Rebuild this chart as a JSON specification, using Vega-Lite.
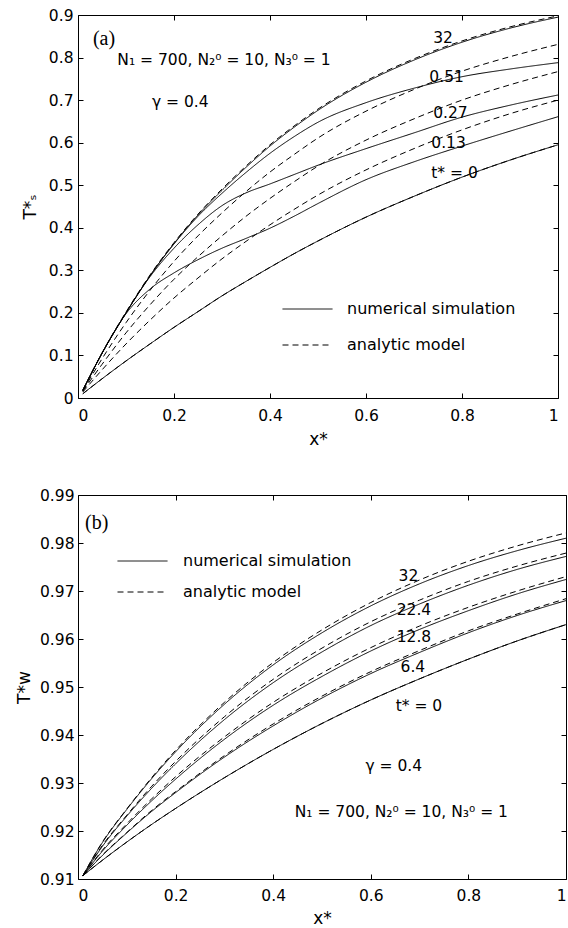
{
"$schema": "https://vega.github.io/schema/vega-lite/v6.json",
"background": "white",
"padding": {"left": 15, "top": 8, "right": 2, "bottom": 4},
"config": {
  "font": "DejaVu Sans",
  "view": {"stroke": null},
  "axis": {"domainColor": "black", "domainWidth": 1, "tickColor": "black", "tickWidth": 1, "tickSize": -5, "labelColor": "black", "labelFont": "DejaVu Sans", "labelFontSize": 15.5, "titleColor": "black", "titleFont": "DejaVu Sans", "titleFontSize": 17, "titleFontWeight": "normal", "grid": false},
  "legend": {"padding": 0, "labelFont": "DejaVu Sans", "labelFontSize": 16, "labelColor": "black", "labelLimit": 400, "symbolType": "stroke", "symbolSize": 2500, "symbolStrokeWidth": 1, "symbolStrokeColor": "black", "clipHeight": 16}
},
"datasets": {
  "a_num": [
    {"x":0.01,"T":0.018,"t":"32"},{"x":0.05,"T":0.105,"t":"32"},{"x":0.1,"T":0.2,"t":"32"},{"x":0.15,"T":0.287,"t":"32"},{"x":0.2,"T":0.363,"t":"32"},{"x":0.25,"T":0.43,"t":"32"},{"x":0.3,"T":0.488,"t":"32"},{"x":0.35,"T":0.542,"t":"32"},{"x":0.4,"T":0.592,"t":"32"},{"x":0.45,"T":0.636,"t":"32"},{"x":0.5,"T":0.676,"t":"32"},{"x":0.6,"T":0.742,"t":"32"},{"x":0.7,"T":0.794,"t":"32"},{"x":0.8,"T":0.836,"t":"32"},{"x":0.9,"T":0.869,"t":"32"},{"x":1,"T":0.895,"t":"32"},
    {"x":0.01,"T":0.018,"t":"0.51"},{"x":0.05,"T":0.105,"t":"0.51"},{"x":0.1,"T":0.2,"t":"0.51"},{"x":0.15,"T":0.287,"t":"0.51"},{"x":0.2,"T":0.362,"t":"0.51"},{"x":0.25,"T":0.427,"t":"0.51"},{"x":0.3,"T":0.481,"t":"0.51"},{"x":0.35,"T":0.53,"t":"0.51"},{"x":0.4,"T":0.575,"t":"0.51"},{"x":0.45,"T":0.614,"t":"0.51"},{"x":0.5,"T":0.648,"t":"0.51"},{"x":0.6,"T":0.694,"t":"0.51"},{"x":0.7,"T":0.728,"t":"0.51"},{"x":0.8,"T":0.755,"t":"0.51"},{"x":0.9,"T":0.773,"t":"0.51"},{"x":1,"T":0.788,"t":"0.51"},
    {"x":0.01,"T":0.018,"t":"0.27"},{"x":0.05,"T":0.105,"t":"0.27"},{"x":0.1,"T":0.2,"t":"0.27"},{"x":0.15,"T":0.285,"t":"0.27"},{"x":0.2,"T":0.352,"t":"0.27"},{"x":0.25,"T":0.407,"t":"0.27"},{"x":0.3,"T":0.452,"t":"0.27"},{"x":0.35,"T":0.482,"t":"0.27"},{"x":0.4,"T":0.503,"t":"0.27"},{"x":0.45,"T":0.525,"t":"0.27"},{"x":0.5,"T":0.547,"t":"0.27"},{"x":0.6,"T":0.586,"t":"0.27"},{"x":0.7,"T":0.623,"t":"0.27"},{"x":0.8,"T":0.66,"t":"0.27"},{"x":0.9,"T":0.688,"t":"0.27"},{"x":1,"T":0.712,"t":"0.27"},
    {"x":0.01,"T":0.018,"t":"0.13"},{"x":0.05,"T":0.105,"t":"0.13"},{"x":0.1,"T":0.198,"t":"0.13"},{"x":0.15,"T":0.256,"t":"0.13"},{"x":0.2,"T":0.294,"t":"0.13"},{"x":0.25,"T":0.325,"t":"0.13"},{"x":0.3,"T":0.352,"t":"0.13"},{"x":0.35,"T":0.375,"t":"0.13"},{"x":0.4,"T":0.399,"t":"0.13"},{"x":0.45,"T":0.427,"t":"0.13"},{"x":0.5,"T":0.457,"t":"0.13"},{"x":0.6,"T":0.513,"t":"0.13"},{"x":0.7,"T":0.555,"t":"0.13"},{"x":0.8,"T":0.592,"t":"0.13"},{"x":0.9,"T":0.627,"t":"0.13"},{"x":1,"T":0.661,"t":"0.13"},
    {"x":0.01,"T":0.01,"t":"0"},{"x":0.05,"T":0.045,"t":"0"},{"x":0.1,"T":0.087,"t":"0"},{"x":0.15,"T":0.127,"t":"0"},{"x":0.2,"T":0.166,"t":"0"},{"x":0.25,"T":0.203,"t":"0"},{"x":0.3,"T":0.24,"t":"0"},{"x":0.35,"T":0.274,"t":"0"},{"x":0.4,"T":0.307,"t":"0"},{"x":0.45,"T":0.339,"t":"0"},{"x":0.5,"T":0.369,"t":"0"},{"x":0.6,"T":0.425,"t":"0"},{"x":0.7,"T":0.474,"t":"0"},{"x":0.8,"T":0.519,"t":"0"},{"x":0.9,"T":0.559,"t":"0"},{"x":1,"T":0.595,"t":"0"}
  ],
  "a_ana": [
    {"x":0.01,"T":0.018,"t":"32"},{"x":0.05,"T":0.106,"t":"32"},{"x":0.1,"T":0.202,"t":"32"},{"x":0.15,"T":0.289,"t":"32"},{"x":0.2,"T":0.365,"t":"32"},{"x":0.25,"T":0.432,"t":"32"},{"x":0.3,"T":0.491,"t":"32"},{"x":0.35,"T":0.545,"t":"32"},{"x":0.4,"T":0.595,"t":"32"},{"x":0.45,"T":0.639,"t":"32"},{"x":0.5,"T":0.679,"t":"32"},{"x":0.6,"T":0.745,"t":"32"},{"x":0.7,"T":0.797,"t":"32"},{"x":0.8,"T":0.839,"t":"32"},{"x":0.9,"T":0.872,"t":"32"},{"x":1,"T":0.898,"t":"32"},
    {"x":0.01,"T":0.017,"t":"0.51"},{"x":0.05,"T":0.092,"t":"0.51"},{"x":0.1,"T":0.177,"t":"0.51"},{"x":0.15,"T":0.253,"t":"0.51"},{"x":0.2,"T":0.321,"t":"0.51"},{"x":0.25,"T":0.381,"t":"0.51"},{"x":0.3,"T":0.435,"t":"0.51"},{"x":0.35,"T":0.485,"t":"0.51"},{"x":0.4,"T":0.531,"t":"0.51"},{"x":0.45,"T":0.572,"t":"0.51"},{"x":0.5,"T":0.611,"t":"0.51"},{"x":0.6,"T":0.674,"t":"0.51"},{"x":0.7,"T":0.725,"t":"0.51"},{"x":0.8,"T":0.768,"t":"0.51"},{"x":0.9,"T":0.802,"t":"0.51"},{"x":1,"T":0.831,"t":"0.51"},
    {"x":0.01,"T":0.016,"t":"0.27"},{"x":0.05,"T":0.079,"t":"0.27"},{"x":0.1,"T":0.153,"t":"0.27"},{"x":0.15,"T":0.219,"t":"0.27"},{"x":0.2,"T":0.279,"t":"0.27"},{"x":0.25,"T":0.332,"t":"0.27"},{"x":0.3,"T":0.381,"t":"0.27"},{"x":0.35,"T":0.427,"t":"0.27"},{"x":0.4,"T":0.469,"t":"0.27"},{"x":0.45,"T":0.508,"t":"0.27"},{"x":0.5,"T":0.545,"t":"0.27"},{"x":0.6,"T":0.606,"t":"0.27"},{"x":0.7,"T":0.656,"t":"0.27"},{"x":0.8,"T":0.7,"t":"0.27"},{"x":0.9,"T":0.736,"t":"0.27"},{"x":1,"T":0.767,"t":"0.27"},
    {"x":0.01,"T":0.014,"t":"0.13"},{"x":0.05,"T":0.066,"t":"0.13"},{"x":0.1,"T":0.127,"t":"0.13"},{"x":0.15,"T":0.183,"t":"0.13"},{"x":0.2,"T":0.235,"t":"0.13"},{"x":0.25,"T":0.282,"t":"0.13"},{"x":0.3,"T":0.327,"t":"0.13"},{"x":0.35,"T":0.368,"t":"0.13"},{"x":0.4,"T":0.407,"t":"0.13"},{"x":0.45,"T":0.443,"t":"0.13"},{"x":0.5,"T":0.477,"t":"0.13"},{"x":0.6,"T":0.536,"t":"0.13"},{"x":0.7,"T":0.586,"t":"0.13"},{"x":0.8,"T":0.63,"t":"0.13"},{"x":0.9,"T":0.668,"t":"0.13"},{"x":1,"T":0.7,"t":"0.13"},
    {"x":0.01,"T":0.01,"t":"0"},{"x":0.05,"T":0.045,"t":"0"},{"x":0.1,"T":0.087,"t":"0"},{"x":0.15,"T":0.127,"t":"0"},{"x":0.2,"T":0.166,"t":"0"},{"x":0.25,"T":0.203,"t":"0"},{"x":0.3,"T":0.24,"t":"0"},{"x":0.35,"T":0.274,"t":"0"},{"x":0.4,"T":0.307,"t":"0"},{"x":0.45,"T":0.339,"t":"0"},{"x":0.5,"T":0.369,"t":"0"},{"x":0.6,"T":0.425,"t":"0"},{"x":0.7,"T":0.474,"t":"0"},{"x":0.8,"T":0.519,"t":"0"},{"x":0.9,"T":0.559,"t":"0"},{"x":1,"T":0.595,"t":"0"}
  ],
  "a_lab": [
    {"x":0.74,"T":0.834,"label":"32"},
    {"x":0.732,"T":0.743,"label":"0.51"},
    {"x":0.74,"T":0.658,"label":"0.27"},
    {"x":0.736,"T":0.5875,"label":"0.13"},
    {"x":0.736,"T":0.517,"label":"t* = 0"},
    {"x":0.082,"T":0.7826,"label":"N₁ = 700, N₂⁰ = 10, N₃⁰ = 1"},
    {"x":0.154,"T":0.683,"label":"γ = 0.4"}
  ],
  "a_tag": [{"x":0.031,"T":0.83,"label":"(a)"}],
  "b_num": [
    {"x":0.01,"T":0.9107,"t":"32"},{"x":0.05,"T":0.9176,"t":"32"},{"x":0.1,"T":0.9245,"t":"32"},{"x":0.15,"T":0.9308,"t":"32"},{"x":0.2,"T":0.9365,"t":"32"},{"x":0.3,"T":0.9464,"t":"32"},{"x":0.4,"T":0.9546,"t":"32"},{"x":0.5,"T":0.9613,"t":"32"},{"x":0.6,"T":0.9669,"t":"32"},{"x":0.7,"T":0.9715,"t":"32"},{"x":0.8,"T":0.9753,"t":"32"},{"x":0.9,"T":0.9784,"t":"32"},{"x":1,"T":0.981,"t":"32"},
    {"x":0.01,"T":0.9107,"t":"22.4"},{"x":0.05,"T":0.9168,"t":"22.4"},{"x":0.1,"T":0.9231,"t":"22.4"},{"x":0.15,"T":0.9288,"t":"22.4"},{"x":0.2,"T":0.934,"t":"22.4"},{"x":0.3,"T":0.9432,"t":"22.4"},{"x":0.4,"T":0.9509,"t":"22.4"},{"x":0.5,"T":0.9573,"t":"22.4"},{"x":0.6,"T":0.9628,"t":"22.4"},{"x":0.7,"T":0.9673,"t":"22.4"},{"x":0.8,"T":0.9712,"t":"22.4"},{"x":0.9,"T":0.9745,"t":"22.4"},{"x":1,"T":0.9772,"t":"22.4"},
    {"x":0.01,"T":0.9107,"t":"12.8"},{"x":0.05,"T":0.9158,"t":"12.8"},{"x":0.1,"T":0.9212,"t":"12.8"},{"x":0.15,"T":0.9262,"t":"12.8"},{"x":0.2,"T":0.9308,"t":"12.8"},{"x":0.3,"T":0.9391,"t":"12.8"},{"x":0.4,"T":0.9462,"t":"12.8"},{"x":0.5,"T":0.9522,"t":"12.8"},{"x":0.6,"T":0.9575,"t":"12.8"},{"x":0.7,"T":0.962,"t":"12.8"},{"x":0.8,"T":0.9659,"t":"12.8"},{"x":0.9,"T":0.9694,"t":"12.8"},{"x":1,"T":0.9724,"t":"12.8"},
    {"x":0.01,"T":0.9107,"t":"6.4"},{"x":0.05,"T":0.9149,"t":"6.4"},{"x":0.1,"T":0.9196,"t":"6.4"},{"x":0.15,"T":0.924,"t":"6.4"},{"x":0.2,"T":0.928,"t":"6.4"},{"x":0.3,"T":0.9354,"t":"6.4"},{"x":0.4,"T":0.9419,"t":"6.4"},{"x":0.5,"T":0.9477,"t":"6.4"},{"x":0.6,"T":0.9528,"t":"6.4"},{"x":0.7,"T":0.9572,"t":"6.4"},{"x":0.8,"T":0.9613,"t":"6.4"},{"x":0.9,"T":0.9649,"t":"6.4"},{"x":1,"T":0.968,"t":"6.4"},
    {"x":0.01,"T":0.9107,"t":"0"},{"x":0.05,"T":0.9139,"t":"0"},{"x":0.1,"T":0.9177,"t":"0"},{"x":0.15,"T":0.9213,"t":"0"},{"x":0.2,"T":0.9247,"t":"0"},{"x":0.3,"T":0.9311,"t":"0"},{"x":0.4,"T":0.937,"t":"0"},{"x":0.5,"T":0.9424,"t":"0"},{"x":0.6,"T":0.9473,"t":"0"},{"x":0.7,"T":0.9517,"t":"0"},{"x":0.8,"T":0.9558,"t":"0"},{"x":0.9,"T":0.9596,"t":"0"},{"x":1,"T":0.963,"t":"0"}
  ],
  "b_ana": [
    {"x":0.01,"T":0.9107,"t":"32"},{"x":0.05,"T":0.9177,"t":"32"},{"x":0.1,"T":0.9246,"t":"32"},{"x":0.15,"T":0.931,"t":"32"},{"x":0.2,"T":0.9368,"t":"32"},{"x":0.3,"T":0.9468,"t":"32"},{"x":0.4,"T":0.9551,"t":"32"},{"x":0.5,"T":0.9619,"t":"32"},{"x":0.6,"T":0.9676,"t":"32"},{"x":0.7,"T":0.9723,"t":"32"},{"x":0.8,"T":0.9762,"t":"32"},{"x":0.9,"T":0.9794,"t":"32"},{"x":1,"T":0.9821,"t":"32"},
    {"x":0.01,"T":0.9107,"t":"22.4"},{"x":0.05,"T":0.917,"t":"22.4"},{"x":0.1,"T":0.9233,"t":"22.4"},{"x":0.15,"T":0.9292,"t":"22.4"},{"x":0.2,"T":0.9345,"t":"22.4"},{"x":0.3,"T":0.9438,"t":"22.4"},{"x":0.4,"T":0.9516,"t":"22.4"},{"x":0.5,"T":0.9581,"t":"22.4"},{"x":0.6,"T":0.9636,"t":"22.4"},{"x":0.7,"T":0.9681,"t":"22.4"},{"x":0.8,"T":0.972,"t":"22.4"},{"x":0.9,"T":0.9752,"t":"22.4"},{"x":1,"T":0.9779,"t":"22.4"},
    {"x":0.01,"T":0.9107,"t":"12.8"},{"x":0.05,"T":0.916,"t":"12.8"},{"x":0.1,"T":0.9215,"t":"12.8"},{"x":0.15,"T":0.9266,"t":"12.8"},{"x":0.2,"T":0.9313,"t":"12.8"},{"x":0.3,"T":0.9396,"t":"12.8"},{"x":0.4,"T":0.9468,"t":"12.8"},{"x":0.5,"T":0.9529,"t":"12.8"},{"x":0.6,"T":0.9582,"t":"12.8"},{"x":0.7,"T":0.9627,"t":"12.8"},{"x":0.8,"T":0.9666,"t":"12.8"},{"x":0.9,"T":0.97,"t":"12.8"},{"x":1,"T":0.973,"t":"12.8"},
    {"x":0.01,"T":0.9107,"t":"6.4"},{"x":0.05,"T":0.915,"t":"6.4"},{"x":0.1,"T":0.9197,"t":"6.4"},{"x":0.15,"T":0.9242,"t":"6.4"},{"x":0.2,"T":0.9282,"t":"6.4"},{"x":0.3,"T":0.9357,"t":"6.4"},{"x":0.4,"T":0.9423,"t":"6.4"},{"x":0.5,"T":0.9481,"t":"6.4"},{"x":0.6,"T":0.9532,"t":"6.4"},{"x":0.7,"T":0.9576,"t":"6.4"},{"x":0.8,"T":0.9617,"t":"6.4"},{"x":0.9,"T":0.9652,"t":"6.4"},{"x":1,"T":0.9684,"t":"6.4"},
    {"x":0.01,"T":0.9107,"t":"0"},{"x":0.05,"T":0.9139,"t":"0"},{"x":0.1,"T":0.9177,"t":"0"},{"x":0.15,"T":0.9213,"t":"0"},{"x":0.2,"T":0.9247,"t":"0"},{"x":0.3,"T":0.9311,"t":"0"},{"x":0.4,"T":0.937,"t":"0"},{"x":0.5,"T":0.9424,"t":"0"},{"x":0.6,"T":0.9473,"t":"0"},{"x":0.7,"T":0.9517,"t":"0"},{"x":0.8,"T":0.9558,"t":"0"},{"x":0.9,"T":0.9596,"t":"0"},{"x":1,"T":0.963,"t":"0"}
  ],
  "b_lab": [
    {"x":0.657,"T":0.9721,"label":"32"},
    {"x":0.653,"T":0.965,"label":"22.4"},
    {"x":0.653,"T":0.9594,"label":"12.8"},
    {"x":0.661,"T":0.9531,"label":"6.4"},
    {"x":0.651,"T":0.945,"label":"t* = 0"},
    {"x":0.589,"T":0.9326,"label":"γ = 0.4"},
    {"x":0.444,"T":0.9229,"label":"N₁ = 700, N₂⁰ = 10, N₃⁰ = 1"}
  ],
  "b_tag": [{"x":0.0145,"T":0.9829,"label":"(b)"}]
},
"concat": [
  {
    "width": 480, "height": 383,
    "layer": [
      {"data": {"name": "a_num"}, "mark": {"type": "line", "color": "black", "strokeWidth": 1, "interpolate": "monotone"},
       "encoding": {
         "x": {"field": "x", "type": "quantitative", "scale": {"domain": [0, 1], "nice": false, "zero": false}, "axis": {"orient": "bottom", "values": [0, 0.2, 0.4, 0.6, 0.8, 1], "format": "~g", "labelPadding": 15, "title": "x*", "titlePadding": 8}},
         "y": {"field": "T", "type": "quantitative", "scale": {"domain": [0, 0.9], "nice": false, "zero": false}, "axis": {"orient": "left", "values": [0, 0.1, 0.2, 0.3, 0.4, 0.5, 0.6, 0.7, 0.8, 0.9], "format": "~g", "labelPadding": 10, "title": "T*ₛ", "titlePadding": 9}},
         "detail": {"field": "t"},
         "strokeDash": {"datum": "numerical simulation", "type": "nominal", "scale": {"domain": ["numerical simulation", "analytic model"], "range": [[1, 0], [6, 4]]}, "legend": {"title": null, "orient": "none", "legendX": 204, "legendY": 286, "labelOffset": 14, "rowPadding": 20}}
       }},
      {"data": {"name": "a_ana"}, "mark": {"type": "line", "color": "black", "strokeWidth": 1, "interpolate": "monotone"},
       "encoding": {
         "x": {"field": "x", "type": "quantitative", "axis": {"orient": "top", "values": [0, 0.2, 0.4, 0.6, 0.8, 1], "labels": false, "title": null}},
         "y": {"field": "T", "type": "quantitative", "axis": {"orient": "right", "values": [0, 0.1, 0.2, 0.3, 0.4, 0.5, 0.6, 0.7, 0.8, 0.9], "labels": false, "title": null}},
         "detail": {"field": "t"},
         "strokeDash": {"datum": "analytic model", "type": "nominal"}
       }},
      {"data": {"name": "a_lab"}, "mark": {"type": "text", "align": "left", "baseline": "alphabetic", "font": "DejaVu Sans", "fontSize": 15.5, "color": "black"},
       "encoding": {
         "x": {"field": "x", "type": "quantitative", "axis": null},
         "y": {"field": "T", "type": "quantitative", "axis": null},
         "text": {"field": "label"}
       }},
      {"data": {"name": "a_tag"}, "mark": {"type": "text", "align": "left", "baseline": "alphabetic", "font": "Liberation Serif", "fontSize": 20, "color": "black"},
       "encoding": {
         "x": {"field": "x", "type": "quantitative", "axis": null},
         "y": {"field": "T", "type": "quantitative", "axis": null},
         "text": {"field": "label"}
       }}
    ],
    "resolve": {"axis": {"x": "independent", "y": "independent"}}
  },
  {
    "width": 488, "height": 384,
    "layer": [
      {"data": {"name": "b_num"}, "mark": {"type": "line", "color": "black", "strokeWidth": 1, "interpolate": "monotone"},
       "encoding": {
         "x": {"field": "x", "type": "quantitative", "scale": {"domain": [0, 1], "nice": false, "zero": false}, "axis": {"orient": "bottom", "values": [0, 0.2, 0.4, 0.6, 0.8, 1], "format": "~g", "labelPadding": 14, "title": "x*", "titlePadding": 7}},
         "y": {"field": "T", "type": "quantitative", "scale": {"domain": [0.91, 0.99], "nice": false, "zero": false}, "axis": {"orient": "left", "values": [0.91, 0.92, 0.93, 0.94, 0.95, 0.96, 0.97, 0.98, 0.99], "format": "~g", "labelPadding": 9, "title": "T*w", "titlePadding": 6}},
         "detail": {"field": "t"},
         "strokeDash": {"datum": "numerical simulation", "type": "nominal", "scale": {"domain": ["numerical simulation", "analytic model"], "range": [[1, 0], [6, 4]]}, "legend": {"title": null, "orient": "none", "legendX": 39, "legendY": 58, "labelOffset": 15, "rowPadding": 15}}
       }},
      {"data": {"name": "b_ana"}, "mark": {"type": "line", "color": "black", "strokeWidth": 1, "interpolate": "monotone"},
       "encoding": {
         "x": {"field": "x", "type": "quantitative", "axis": {"orient": "top", "values": [0, 0.2, 0.4, 0.6, 0.8, 1], "labels": false, "title": null}},
         "y": {"field": "T", "type": "quantitative", "axis": {"orient": "right", "values": [0.91, 0.92, 0.93, 0.94, 0.95, 0.96, 0.97, 0.98, 0.99], "labels": false, "title": null}},
         "detail": {"field": "t"},
         "strokeDash": {"datum": "analytic model", "type": "nominal"}
       }},
      {"data": {"name": "b_lab"}, "mark": {"type": "text", "align": "left", "baseline": "alphabetic", "font": "DejaVu Sans", "fontSize": 15.5, "color": "black"},
       "encoding": {
         "x": {"field": "x", "type": "quantitative", "axis": null},
         "y": {"field": "T", "type": "quantitative", "axis": null},
         "text": {"field": "label"}
       }},
      {"data": {"name": "b_tag"}, "mark": {"type": "text", "align": "left", "baseline": "alphabetic", "font": "Liberation Serif", "fontSize": 20, "color": "black"},
       "encoding": {
         "x": {"field": "x", "type": "quantitative", "axis": null},
         "y": {"field": "T", "type": "quantitative", "axis": null},
         "text": {"field": "label"}
       }}
    ],
    "resolve": {"axis": {"x": "independent", "y": "independent"}}
  }
],
"columns": 1,
"align": "none",
"spacing": 40,
"resolve": {"scale": {"strokeDash": "independent"}, "legend": {"strokeDash": "independent"}}
}
